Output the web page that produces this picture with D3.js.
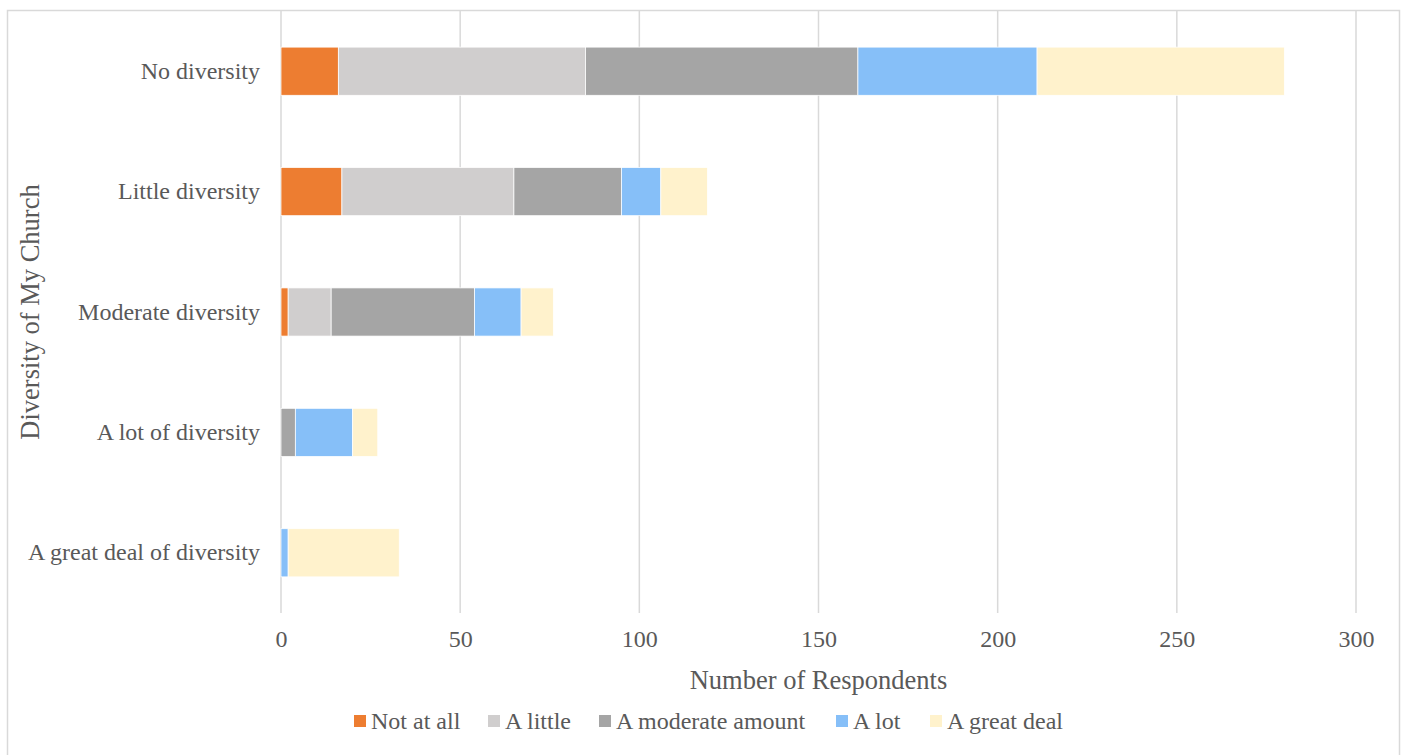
<!DOCTYPE html>
<html>
<head>
<meta charset="utf-8">
<script src="https://cdn.jsdelivr.net/npm/d3@7"></script>
</head>
<body style="margin:0;background:#fff">
<svg id="chart" width="1401" height="755" style="display:block"></svg>
<script>
// Church diversity groups (top to bottom)
const categories = ["No diversity", "Little diversity", "Moderate diversity", "A lot of diversity", "A great deal of diversity"];
// Response levels, stacked left to right
const seriesNames = ["Not at all", "A little", "A moderate amount", "A lot", "A great deal"];
const seriesColors = ["#ED7D31", "#D0CECE", "#A5A5A5", "#86BFF8", "#FFF2CC"];
// Respondent counts per group, one array per response level
const notAtAll   = [16, 17, 2, 0, 0];
const aLittle    = [69, 48, 12, 0, 0];
const moderate   = [76, 30, 40, 4, 0];
const aLot       = [50, 11, 13, 16, 2];
const aGreatDeal = [69, 13, 9, 7, 31];
const xTicks = [0, 50, 100, 150, 200, 250, 300];

const seriesValues = [notAtAll, aLittle, moderate, aLot, aGreatDeal];
const rows = categories.map((c, i) => {
  const r = { category: c };
  seriesNames.forEach((s, j) => { r[s] = seriesValues[j][i]; });
  return r;
});

const svg = d3.select("#chart");
const margin = { left: 281, right: 45, top: 11, bottom: 142 };
const W = 1401, H = 755;
const textColor = "#595959";
const FONT = '"Liberation Serif"';

// Outer frame
svg.append("rect")
  .attr("x", 7.5).attr("y", 10.5)
  .attr("width", 1392).attr("height", 760)
  .attr("fill", "none").attr("stroke", "#d9d9d9").attr("stroke-width", 1.5);

const x = d3.scaleLinear().domain([0, 300]).range([margin.left, W - margin.right]);
const y = d3.scaleBand().domain(categories)
  .range([margin.top, H - margin.bottom])
  .paddingInner(0.6).paddingOuter(0.3);

// Vertical gridlines
svg.append("g").selectAll("line").data(xTicks).join("line")
  .attr("x1", d => x(d)).attr("x2", d => x(d))
  .attr("y1", margin.top).attr("y2", H - margin.bottom)
  .attr("stroke", "#d9d9d9").attr("stroke-width", 1.5);

// Stacked bars
const stack = d3.stack().keys(seriesNames)(rows);
const color = d3.scaleOrdinal().domain(seriesNames).range(seriesColors);
svg.append("g").selectAll("g").data(stack).join("g")
  .attr("fill", d => color(d.key))
  .selectAll("rect").data(d => d.filter(p => p[1] - p[0] > 0)).join("rect")
  .attr("x", d => x(d[0]))
  .attr("width", d => x(d[1]) - x(d[0]))
  .attr("y", d => y(d.data.category))
  .attr("height", y.bandwidth())
  .attr("stroke", "#ffffff").attr("stroke-width", 0.75);

// X axis tick labels
const xAxis = d3.axisBottom(x).tickValues(xTicks).tickSize(0).tickPadding(0);
const gx = svg.append("g").attr("transform", `translate(0, ${H - margin.bottom + 17})`).call(xAxis);
gx.attr("font-family", null).attr("font-size", null);
gx.select(".domain").remove();
gx.selectAll("text")
  .style("font-family", FONT).style("font-size", "24px")
  .attr("fill", textColor).attr("dy", "0.71em");

// Category labels
const yAxis = d3.axisLeft(y).tickSize(0).tickPadding(21);
const gy = svg.append("g").attr("transform", `translate(${margin.left}, 0)`).call(yAxis);
gy.attr("font-family", null).attr("font-size", null);
gy.select(".domain").remove();
gy.selectAll("text")
  .style("font-family", FONT).style("font-size", "24px")
  .attr("fill", textColor);

// Axis titles
svg.append("text")
  .attr("x", x(150)).attr("y", 689)
  .attr("text-anchor", "middle")
  .style("font-family", FONT).style("font-size", "26.5px")
  .attr("fill", textColor)
  .text("Number of Respondents");

svg.append("text")
  .attr("transform", `translate(39, ${(margin.top + H - margin.bottom) / 2}) rotate(-90)`)
  .attr("text-anchor", "middle")
  .style("font-family", FONT).style("font-size", "26.5px")
  .attr("fill", textColor)
  .text("Diversity of My Church");

// Legend
const legendX = [354, 488, 599, 836, 930];
const legend = svg.append("g").selectAll("g").data(seriesNames).join("g")
  .attr("transform", (d, i) => `translate(${legendX[i]}, 721)`);
legend.append("rect")
  .attr("x", 0).attr("y", -6).attr("width", 12).attr("height", 12)
  .attr("fill", d => color(d));
legend.append("text")
  .attr("x", 17).attr("y", 0).attr("dy", "0.35em")
  .style("font-family", FONT).style("font-size", "24px")
  .attr("fill", textColor)
  .text(d => d);
</script>
</body>
</html>
